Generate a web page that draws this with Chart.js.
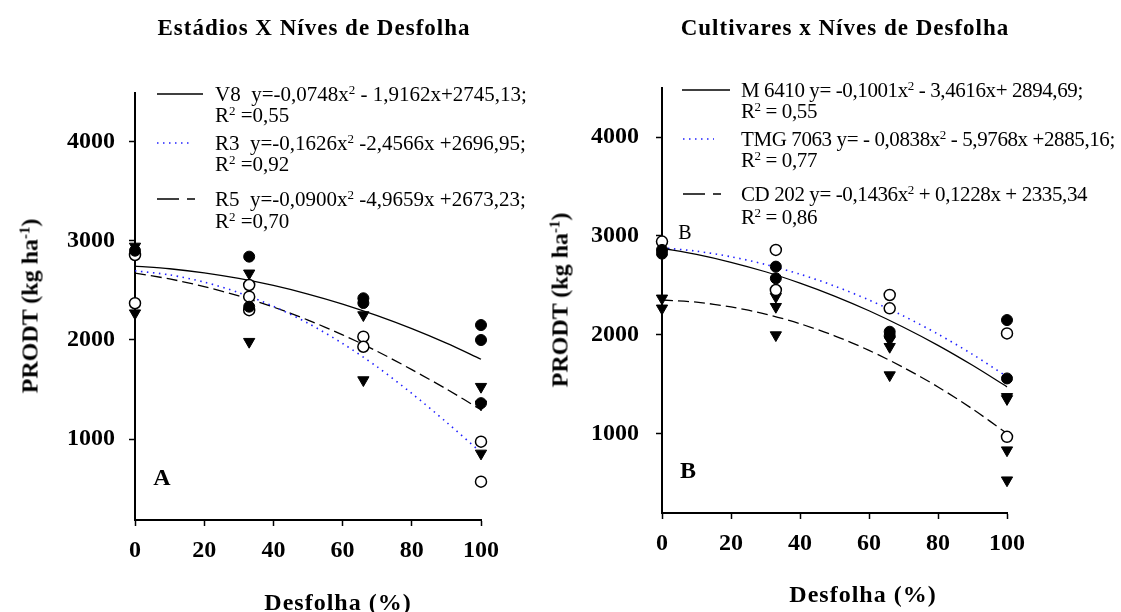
<!DOCTYPE html>
<html lang="pt">
<head>
<meta charset="UTF-8">
<title>Desfolha</title>
<script src="https://cdn.jsdelivr.net/npm/chart.js"></script>
<style>
  body { margin: 0; background: #fff; }
  #wrap { position: relative; width: 1121px; height: 612px; font-family: "Liberation Serif", "Times New Roman", serif; color: #000; }
  canvas { position: absolute; top: 0; }
  .t { position: absolute; white-space: pre; }
  .title { font-weight: bold; font-size: 23px; letter-spacing: 1px; transform: translate(-50%, -50%); }
  .leg { font-size: 21px; line-height: 20px; }
  .leg sup, .ylab sup { font-size: 62%; vertical-align: 0.55em; line-height: 0; }
  .axt { font-weight: bold; font-size: 24px; letter-spacing: 1px; transform: translate(-50%, -50%); }
  .ylab { font-weight: bold; font-size: 24px; transform: translate(-50%, -50%) rotate(-90deg); }
  .big { font-weight: bold; font-size: 24px; transform: translate(-50%, -50%); }
</style>
</head>
<body>
<div id="wrap">
  <canvas id="chartA" width="560" height="612" style="left:0"></canvas>
  <canvas id="chartB" width="561" height="612" style="left:560px"></canvas>

  <div class="t title" style="left:314px;top:28px">Estádios X Níves de Desfolha</div>
  <div class="t title" style="left:845px;top:28px">Cultivares x Níves de Desfolha</div>

  <div class="t leg" style="left:215px;top:84px">V8  y=-0,0748x<sup>2</sup> - 1,9162x+2745,13;</div>
  <div class="t leg" style="left:215px;top:105px">R<sup>2</sup> =0,55</div>
  <div class="t leg" style="left:215px;top:133px">R3  y=-0,1626x<sup>2</sup> -2,4566x +2696,95;</div>
  <div class="t leg" style="left:215px;top:154px">R<sup>2</sup> =0,92</div>
  <div class="t leg" style="left:215px;top:189px">R5  y=-0,0900x<sup>2</sup> -4,9659x +2673,23;</div>
  <div class="t leg" style="left:215px;top:211px">R<sup>2</sup> =0,70</div>

  <div class="t leg" style="left:741px;top:80px;letter-spacing:-0.4px">M 6410 y= -0,1001x<sup>2</sup> - 3,4616x+ 2894,69;</div>
  <div class="t leg" style="left:741px;top:101px;letter-spacing:-0.4px">R<sup>2</sup> = 0,55</div>
  <div class="t leg" style="left:741px;top:129px;letter-spacing:-0.4px">TMG 7063 y= - 0,0838x<sup>2</sup> - 5,9768x +2885,16;</div>
  <div class="t leg" style="left:741px;top:150px;letter-spacing:-0.4px">R<sup>2</sup> = 0,77</div>
  <div class="t leg" style="left:741px;top:184px;letter-spacing:-0.4px">CD 202 y= -0,1436x<sup>2</sup> + 0,1228x + 2335,34</div>
  <div class="t leg" style="left:741px;top:207px;letter-spacing:-0.4px">R<sup>2</sup> = 0,86</div>

  <div class="t ylab" style="left:30px;top:306px">PRODT (kg ha<sup>-1</sup>)</div>
  <div class="t ylab" style="left:560px;top:300px">PRODT (kg ha<sup>-1</sup>)</div>
  <div class="t axt" style="left:338px;top:602px">Desfolha (%)</div>
  <div class="t axt" style="left:863px;top:594px">Desfolha (%)</div>

  <div class="t big" style="left:162px;top:477px">A</div>
  <div class="t big" style="left:688px;top:470px">B</div>
  <div class="t" style="left:685px;top:232px;font-size:20px;transform:translate(-50%,-50%)">B</div>
</div>

<script>
// defoliation levels used for the fitted curves
const curveX = [0, 10, 20, 30, 40, 50, 60, 70, 80, 90, 100];
const yTicks = [1000, 2000, 3000, 4000];

// panel A - stages
const v8Curve = [2745, 2718, 2677, 2620, 2549, 2462, 2361, 2244, 2113, 1967, 1805];
const r3Curve = [2697, 2656, 2583, 2477, 2339, 2168, 1964, 1728, 1460, 1170, 865];
const r5Curve = [2673, 2615, 2538, 2443, 2331, 2200, 2051, 1885, 1700, 1505, 1295];

const aDotX = [0, 33, 33, 66, 66, 100, 100, 100];
const aDotY = [2900, 2840, 2335, 2420, 2372, 2150, 1999, 1362];
const aRingX = [0, 0, 33, 33, 33, 66, 66, 100, 100];
const aRingY = [2857, 2370, 2554, 2436, 2300, 2032, 1931, 973, 570];
const aTriX = [0, 0, 33, 33, 66, 66, 100, 100, 100];
const aTriY = [2943, 2270, 2672, 1982, 2251, 1595, 1528, 1350, 855];

// panel B - cultivars
const m6410Curve = [2875, 2813, 2733, 2637, 2522, 2391, 2242, 2075, 1892, 1690, 1472];
const tmgCurve = [2880, 2845, 2789, 2711, 2612, 2493, 2351, 2189, 2006, 1801, 1575];
const cd202Curve = [2351, 2329, 2281, 2209, 2111, 1989, 1841, 1668, 1471, 1248, 1000];

const bDotX = [0, 0, 33, 33, 66, 66, 100, 100];
const bDotY = [2858, 2820, 2689, 2571, 2030, 1990, 2148, 1557];
const bRingX = [0, 33, 33, 66, 66, 100, 100];
const bRingY = [2942, 2858, 2452, 2402, 2267, 2013, 966];
const bTriX = [0, 0, 33, 33, 33, 66, 66, 66, 100, 100, 100, 100];
const bTriY = [2368, 2267, 2385, 2283, 1996, 1946, 1878, 1591, 1371, 1350, 831, 527];

function pts(xs, ys) {
    return xs.map((x, i) => ({ x: x, y: ys[i] }));
}

function dots(xs, ys) {
    return { type: 'scatter', data: pts(xs, ys), pointStyle: 'circle', pointRadius: 5.5,
             backgroundColor: '#000', borderColor: '#000', borderWidth: 1, clip: false, order: 0 };
}
function rings(xs, ys) {
    return { type: 'scatter', data: pts(xs, ys), pointStyle: 'circle', pointRadius: 5.5,
             backgroundColor: '#fff', borderColor: '#000', borderWidth: 1.5, clip: false, order: 0 };
}
function tris(xs, ys) {
    return { type: 'scatter', data: pts(xs, ys), pointStyle: 'triangle', rotation: 180, pointRadius: 6.5,
             backgroundColor: '#000', borderColor: '#000', borderWidth: 1, clip: false, order: 0 };
}
function curve(ys, color, dash, width) {
    return { type: 'line', data: pts(curveX, ys), borderColor: color, borderDash: dash, borderWidth: width,
             pointRadius: 0, tension: 0.3, fill: false, clip: false, order: 1 };
}

const SOLID = [];
const DOTTED = [1.5, 4.5];
const DASHED = [11, 5];

// legend line samples, drawn on the canvas next to the html legend text
function samplesPlugin(items) {
    return {
        id: 'samples',
        afterDraw(chart) {
            const ctx = chart.ctx;
            ctx.save();
            items.forEach(it => {
                ctx.beginPath();
                ctx.strokeStyle = it.color;
                ctx.lineWidth = it.width;
                ctx.setLineDash(it.dash);
                ctx.moveTo(it.x1, it.y);
                ctx.lineTo(it.x2, it.y);
                ctx.stroke();
            });
            ctx.restore();
        }
    };
}

function makeChart(id, datasets, box, yMin, yMax, samples) {
    const tickFont = { family: 'Liberation Serif', size: 24, weight: 'bold' };
    return new Chart(document.getElementById(id), {
        data: { datasets: datasets },
        options: {
            responsive: false,
            animation: false,
            devicePixelRatio: 1,
            layout: { padding: { left: 0, top: box.top, right: box.right, bottom: 0 } },
            plugins: { legend: { display: false }, tooltip: { enabled: false }, title: { display: false } },
            scales: {
                x: {
                    type: 'linear', min: 0, max: 100,
                    ticks: { stepSize: 20, color: '#000', font: tickFont, padding: 10, maxRotation: 0,
                             callback: v => String(v) },
                    grid: { drawOnChartArea: false, drawTicks: true, tickLength: 6, tickWidth: 1.5, tickColor: '#000' },
                    border: { display: true, color: '#000', width: 2 },
                    afterFit: s => { s.height = box.xHeight; }
                },
                y: {
                    type: 'linear', min: yMin, max: yMax,
                    afterBuildTicks: s => { s.ticks = yTicks.map(v => ({ value: v })); },
                    ticks: { color: '#000', font: tickFont, padding: box.yPad, callback: v => String(v) },
                    grid: { drawOnChartArea: false, drawTicks: true, tickLength: 6, tickWidth: 1.5, tickColor: '#000' },
                    border: { display: true, color: '#000', width: 2 },
                    afterFit: s => { s.width = box.yWidth; }
                }
            }
        },
        plugins: [samplesPlugin(samples)]
    });
}

makeChart('chartA', [
    dots(aDotX, aDotY), rings(aRingX, aRingY), tris(aTriX, aTriY),
    curve(v8Curve, '#000', SOLID, 1.3),
    curve(r3Curve, '#2020ff', DOTTED, 1.6),
    curve(r5Curve, '#000', DASHED, 1.3)
], { top: 93, right: 79, xHeight: 92, yWidth: 135, yPad: 14 }, 183, 4491, [
    { x1: 157, x2: 203, y: 94, color: '#000', dash: SOLID, width: 1.3 },
    { x1: 157, x2: 189, y: 143, color: '#2020ff', dash: DOTTED, width: 1.6 },
    { x1: 157, x2: 205, y: 199, color: '#000', dash: [22, 8, 8, 100], width: 1.3 }
]);

makeChart('chartB', [
    dots(bDotX, bDotY), rings(bRingX, bRingY), tris(bTriX, bTriY),
    curve(m6410Curve, '#000', SOLID, 1.3),
    curve(tmgCurve, '#2020ff', DOTTED, 1.6),
    curve(cd202Curve, '#000', DASHED, 1.3)
], { top: 88, right: 114, xHeight: 99, yWidth: 102, yPad: 17 }, 195, 4497, [
    { x1: 122, x2: 170, y: 90, color: '#000', dash: SOLID, width: 1.3 },
    { x1: 123, x2: 154, y: 139, color: '#2020ff', dash: DOTTED, width: 1.6 },
    { x1: 123, x2: 164, y: 194, color: '#000', dash: [22, 8, 8, 100], width: 1.3 }
]);
</script>
</body>
</html>
